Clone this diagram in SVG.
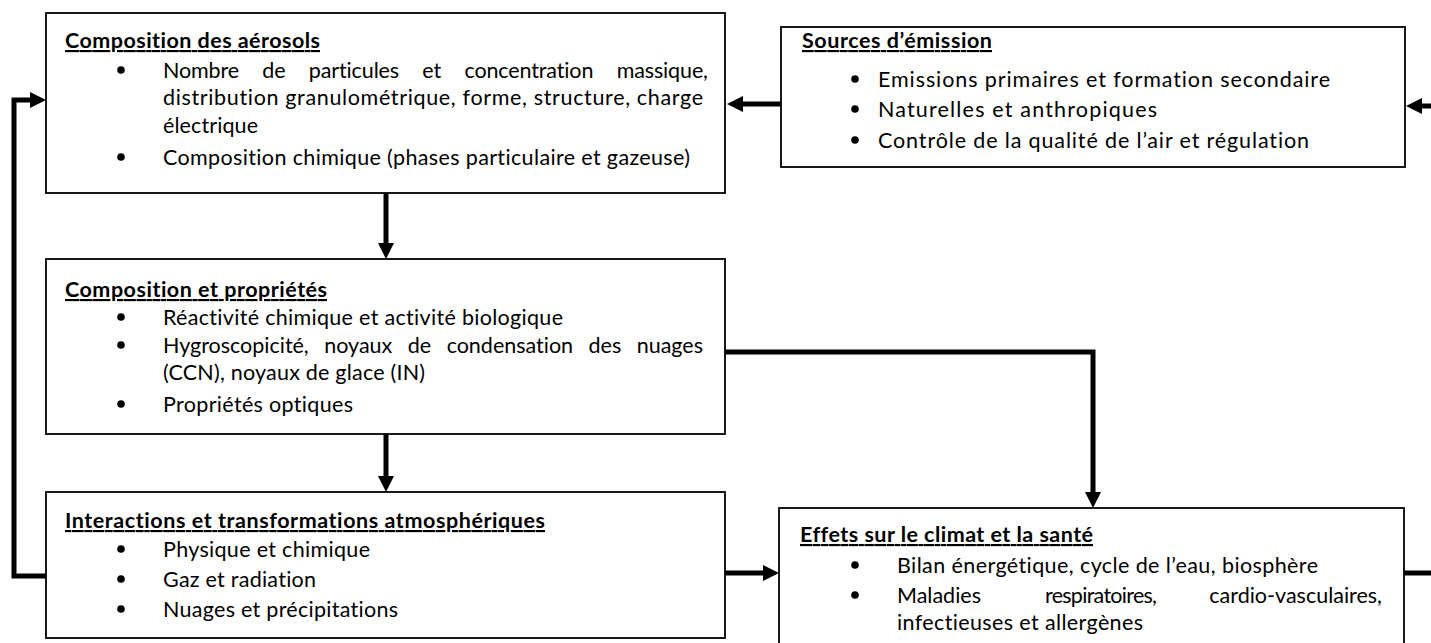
<svg xmlns="http://www.w3.org/2000/svg" width="1431" height="643" viewBox="0 0 1431 643">
<style>
.box{fill:#fff;stroke:#000;stroke-width:1.8}
.t{font-family:Lato,"Liberation Sans",sans-serif;font-size:21.5px;fill:#000;font-variant-ligatures:none;font-feature-settings:"liga" 0,"clig" 0}
.h{font-weight:700;text-decoration:underline}
.e{text-anchor:end}
.b{fill:#000}
.c{fill:none;stroke:#000;stroke-width:5;stroke-linejoin:miter}
</style>
<defs>
<marker id="ah" markerUnits="userSpaceOnUse" markerWidth="17" markerHeight="17" refX="0" refY="8" orient="auto" overflow="visible">
<path d="M0,0 L16,8 L0,16 Z" fill="#000"/>
</marker>
</defs>
<rect width="1431" height="643" fill="#fff"/>

<g id="connectors">
<path class="c" d="M386,193 V243" marker-end="url(#ah)"/>
<path class="c" d="M386,434 V476" marker-end="url(#ah)"/>
<path class="c" d="M781,104 H743" marker-end="url(#ah)"/>
<path class="c" d="M1431,106 H1422" marker-end="url(#ah)"/>
<path class="c" d="M46,576 H14 V100 H30" marker-end="url(#ah)"/>
<path class="c" d="M725,352 H1093 V492" marker-end="url(#ah)"/>
<path class="c" d="M725,573 H763" marker-end="url(#ah)"/>
<path class="c" d="M1404,573 H1431"/>
</g>

<g id="composition-aerosols">
<rect class="box" x="46" y="13" width="679" height="180"/>
<text class="t h" x="65" y="48" textLength="255" lengthAdjust="spacing">Composition des aérosols</text>
<circle class="b" cx="121" cy="70" r="3.8"/>
<text class="t" x="163" y="78" word-spacing="18" textLength="545" lengthAdjust="spacing">Nombre de particules et concentration massique,</text>
<text class="t" x="163" y="105" textLength="540" lengthAdjust="spacing">distribution granulométrique, forme, structure, charge</text>
<text class="t" x="163" y="133" textLength="95" lengthAdjust="spacing">électrique</text>
<circle class="b" cx="121" cy="157" r="3.8"/>
<text class="t" x="163" y="165" textLength="527" lengthAdjust="spacing">Composition chimique (phases particulaire et gazeuse)</text>
</g>

<g id="sources-emission">
<rect class="box" x="781" y="27" width="624" height="140"/>
<text class="t h" x="802" y="48" textLength="190" lengthAdjust="spacing">Sources d’émission</text>
<circle class="b" cx="855" cy="79" r="3.8"/>
<text class="t" x="878" y="87" textLength="452" lengthAdjust="spacing">Emissions primaires et formation secondaire</text>
<circle class="b" cx="855" cy="109" r="3.8"/>
<text class="t" x="878" y="117" textLength="279" lengthAdjust="spacing">Naturelles et anthropiques</text>
<circle class="b" cx="855" cy="140" r="3.8"/>
<text class="t" x="878" y="148" textLength="431" lengthAdjust="spacing">Contrôle de la qualité de l’air et régulation</text>
</g>

<g id="composition-proprietes">
<rect class="box" x="46" y="259" width="679" height="175"/>
<text class="t h" x="65" y="297" textLength="262" lengthAdjust="spacing">Composition et propriétés</text>
<circle class="b" cx="121" cy="317" r="3.8"/>
<text class="t" x="163" y="325" textLength="400" lengthAdjust="spacing">Réactivité chimique et activité biologique</text>
<circle class="b" cx="121" cy="345" r="3.8"/>
<text class="t" x="163" y="353" word-spacing="10" textLength="540" lengthAdjust="spacing">Hygroscopicité, noyaux de condensation des nuages</text>
<text class="t" x="163" y="380" textLength="262" lengthAdjust="spacing">(CCN), noyaux de glace (IN)</text>
<circle class="b" cx="121" cy="404" r="3.8"/>
<text class="t" x="163" y="412" textLength="190" lengthAdjust="spacing">Propriétés optiques</text>
</g>

<g id="interactions-transformations">
<rect class="box" x="46" y="492" width="679" height="146"/>
<text class="t h" x="65" y="528" textLength="480" lengthAdjust="spacing">Interactions et transformations atmosphériques</text>
<circle class="b" cx="121" cy="549" r="3.8"/>
<text class="t" x="163" y="557" textLength="207" lengthAdjust="spacing">Physique et chimique</text>
<circle class="b" cx="121" cy="579" r="3.8"/>
<text class="t" x="163" y="587" textLength="153" lengthAdjust="spacing">Gaz et radiation</text>
<circle class="b" cx="121" cy="609" r="3.8"/>
<text class="t" x="163" y="617" textLength="235" lengthAdjust="spacing">Nuages et précipitations</text>
</g>

<g id="effets-climat-sante">
<rect class="box" x="779" y="508" width="625" height="150"/>
<text class="t h" x="800" y="542" textLength="293" lengthAdjust="spacing">Effets sur le climat et la santé</text>
<circle class="b" cx="855" cy="565" r="3.8"/>
<text class="t" x="897" y="573" textLength="421" lengthAdjust="spacing">Bilan énergétique, cycle de l’eau, biosphère</text>
<circle class="b" cx="855" cy="595" r="3.8"/>
<text class="t" x="897" y="603">Maladies</text>
<text class="t" x="1045" y="603" textLength="112" lengthAdjust="spacing">respiratoires,</text>
<text class="t e" x="1382" y="603">cardio-vasculaires,</text>
<text class="t" x="897" y="630" textLength="246" lengthAdjust="spacing">infectieuses et allergènes</text>
</g>
</svg>
